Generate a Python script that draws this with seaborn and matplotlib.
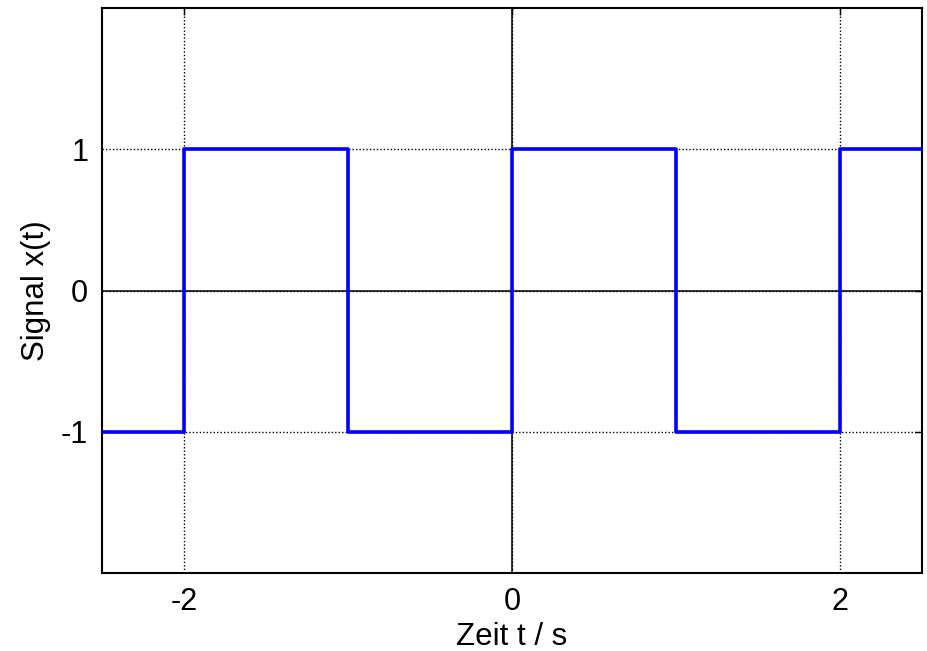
import matplotlib
matplotlib.use("Agg")
import matplotlib.pyplot as plt
import seaborn as sns
import pandas as pd

t = [-2.5, -2, -1, 0, 1, 2, 2.5]
x = [-1, 1, -1, 1, -1, 1, 1]
xticks = [-2, 0, 2]
yticks = [-1, 0, 1]

sns.set_style("white")
plt.rcParams['font.family'] = ['Liberation Sans', 'DejaVu Sans']

fig = plt.figure(figsize=(9.28, 6.51), dpi=100)
ax = fig.add_axes([0.110, 0.1198, 0.8835, 0.8679])

df = pd.DataFrame({"t": t, "x": x})
ax.grid(True, color="black", linestyle=(0, (1.0, 1.5)), linewidth=1.0)
ax.axhline(0, color="black", linewidth=1.1, zorder=1.5)
ax.axvline(0, color="black", linewidth=1.1, zorder=1.5)
sns.lineplot(data=df, x="t", y="x", ax=ax, color="#0000ff", linewidth=2.6,
             drawstyle="steps-post", sort=False, zorder=3)

ax.set_xlim(-2.5, 2.5)
ax.set_ylim(-2, 2)
ax.set_xticks(xticks)
ax.set_yticks(yticks)
ax.set_xticklabels([str(v) for v in xticks])
ax.set_yticklabels([str(v) for v in yticks])
ax.tick_params(direction="in", length=5, width=1, top=True, right=True,
               labelsize=22, colors="black", pad=10)
for s in ax.spines.values():
    s.set_visible(True)
    s.set_color("black")
    s.set_linewidth(1.5)
ax.set_xlabel("Zeit t / s", fontsize=22.5, labelpad=4, color="black")
ax.set_ylabel("Signal x(t)", fontsize=22.5, labelpad=7, color="black")

fig.savefig("out.png", dpi=100)
